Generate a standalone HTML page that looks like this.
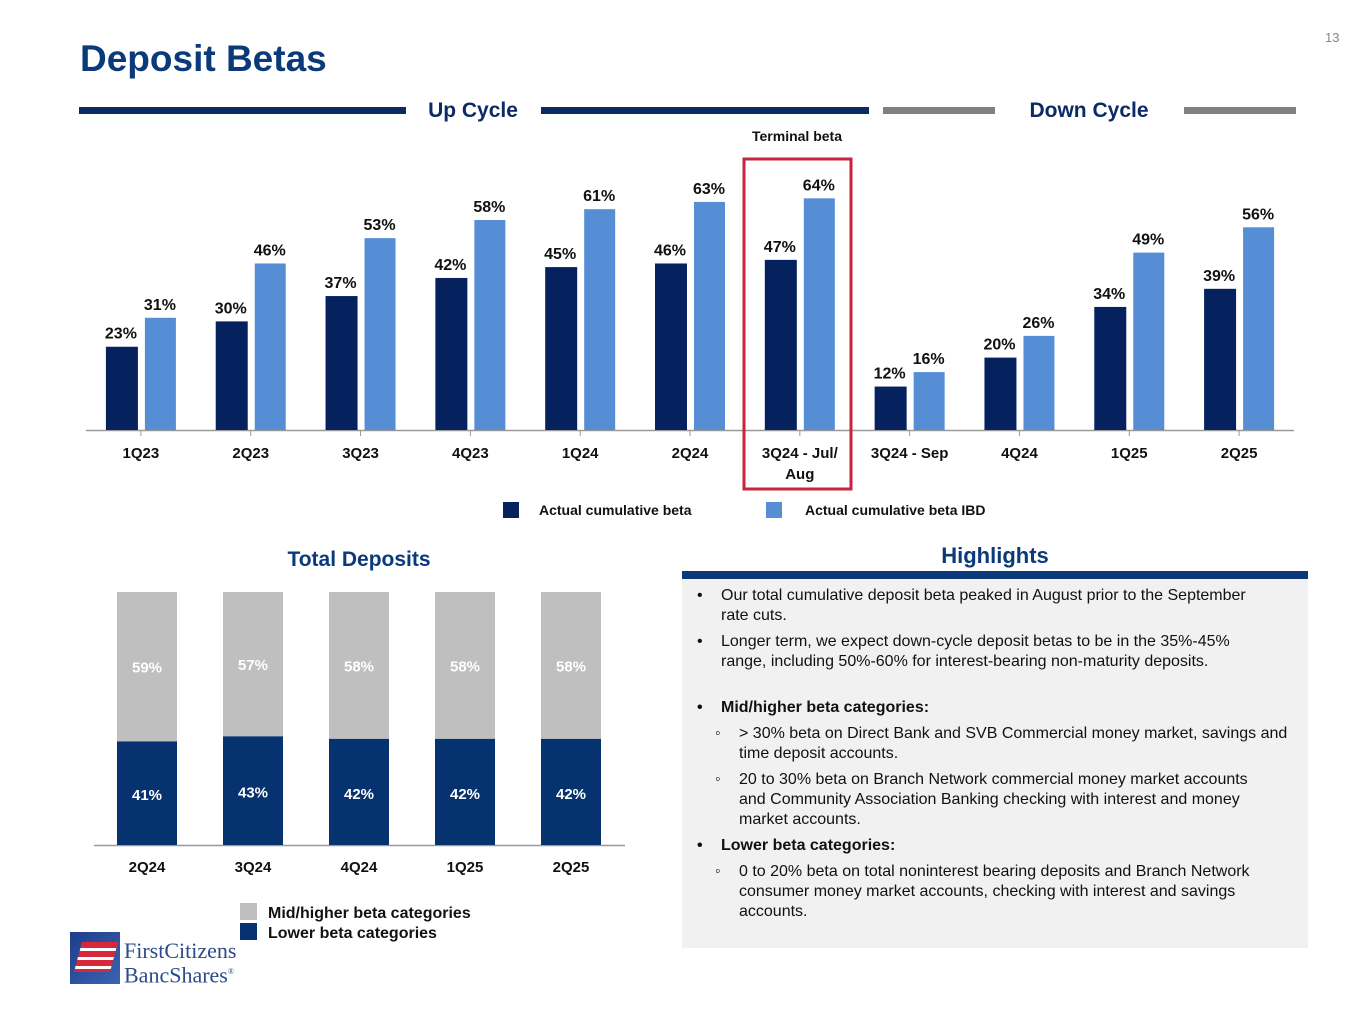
<!DOCTYPE html>
<html><head><meta charset="utf-8"><style>
body{margin:0;width:1365px;height:1024px;background:#fff;font-family:"Liberation Sans",Arial,sans-serif;position:relative;overflow:hidden}
.a{position:absolute}
.hl{font-size:16px;color:#111;line-height:20px}
</style></head><body>
<div class="a" style="left:80px;top:38px;font-size:37px;font-weight:bold;color:#0b3a7a">Deposit Betas</div>
<div class="a" style="left:1325px;top:30px;font-size:13px;color:#888">13</div>

<svg class="a" style="left:0;top:0" width="1365" height="1024">
<g id="topg"></g><g id="botg"></g>
</svg>

<div class="a" style="left:682px;top:543px;width:626px;text-align:center;font-size:22px;font-weight:bold;color:#0b3a7a">Highlights</div>
<div class="a" style="left:682px;top:571px;width:626px;height:377px;background:#f1f1f1;border-top:8px solid #0b3a7a;box-sizing:border-box"></div>
<div class="a hl" style="left:697px;top:586px;width:585px">
<div style="position:relative;padding-left:24px;width:555px"><span style="position:absolute;left:0">•</span>Our total cumulative deposit beta peaked in August prior to the September rate cuts.</div>
<div style="position:relative;padding-left:24px;margin-top:6px;width:555px"><span style="position:absolute;left:0">•</span>Longer term, we expect down-cycle deposit betas to be in the 35%-45% range, including 50%-60% for interest-bearing non-maturity deposits.</div>
<div style="position:relative;padding-left:24px;margin-top:26px;font-weight:bold"><span style="position:absolute;left:0">•</span>Mid/higher beta categories:</div>
<div style="position:relative;padding-left:42px;margin-top:6px;width:555px"><span style="position:absolute;left:18px">◦</span>&gt; 30% beta on Direct Bank and SVB Commercial money market, savings and time deposit accounts.</div>
<div style="position:relative;padding-left:42px;margin-top:6px;width:530px"><span style="position:absolute;left:18px">◦</span>20 to 30% beta on Branch Network commercial money market accounts and Community Association Banking checking with interest and money market accounts.</div>
<div style="position:relative;padding-left:24px;margin-top:6px;font-weight:bold"><span style="position:absolute;left:0">•</span>Lower beta categories:</div>
<div style="position:relative;padding-left:42px;margin-top:6px;width:545px"><span style="position:absolute;left:18px">◦</span>0 to 20% beta on total noninterest bearing deposits and Branch Network consumer money market accounts, checking with interest and savings accounts.</div>
</div>

<div class="a" style="left:70px;top:932px;width:50px;height:52px;background:linear-gradient(135deg,#1d3d8a,#3c64b0)">
<div style="position:absolute;left:8px;top:10px;width:36px;height:30px;background:repeating-linear-gradient(180deg,#d6283a 0 6px,#fff 6px 9px);transform:skewX(-15deg)"></div></div>
<div class="a" style="left:124px;top:940px;font-family:'Liberation Serif',serif;font-size:22px;line-height:21px;color:#2a4a8a">FirstCitizens<br>BancShares<sup style="font-size:8px">®</sup></div>

<script>
const topCats=["1Q23","2Q23","3Q23","4Q23","1Q24","2Q24","3Q24 - Jul/|Aug","3Q24 - Sep","4Q24","1Q25","2Q25"];
const actualBeta=[23,30,37,42,45,46,47,12,20,34,39];
const ibdBeta=[31,46,53,58,61,63,64,16,26,49,56];
const botCats=["2Q24","3Q24","4Q24","1Q25","2Q25"];
const lowerBeta=[41,43,42,42,42];
const higherBeta=[59,57,58,58,58];
const NS="http://www.w3.org/2000/svg";
function mk(p,t,a,txt){const e=document.createElementNS(NS,t);for(const k in a)e.setAttribute(k,a[k]);if(txt!==undefined)e.textContent=txt;p.appendChild(e);return e;}
const tg=document.getElementById('topg'),bg=document.getElementById('botg');
const x0=86,x1=1294,base=430,ppu=3.62,step=(x1-x0)/topCats.length;
const xc=i=>x0+step*(i+0.5), yv=v=>base-v*ppu;
let e;
e=mk(tg,'rect',{x:79,y:107,width:327,height:7,fill:'#0b2a66'});
e=mk(tg,'rect',{x:541,y:107,width:328,height:7,fill:'#0b2a66'});
e=mk(tg,'rect',{x:883,y:107,width:112,height:7,fill:'#808080'});
e=mk(tg,'rect',{x:1184,y:107,width:112,height:7,fill:'#808080'});
e=mk(tg,'text',{x:473,y:117,'text-anchor':'middle','font-size':21,'font-weight':'bold',fill:'#0b2a66'},'Up Cycle');
e=mk(tg,'text',{x:1089,y:117,'text-anchor':'middle','font-size':21,'font-weight':'bold',fill:'#0b2a66'},'Down Cycle');
e=mk(tg,'text',{x:797,y:141,'text-anchor':'middle','font-size':14,'font-weight':'bold',fill:'#111'},'Terminal beta');
e=mk(tg,'line',{x1:x0,y1:base+0.5,x2:x1,y2:base+0.5,stroke:'#999','stroke-width':1.5});
topCats.forEach((c,i)=>{
 const cx=xc(i);
 e=mk(tg,'line',{x1:cx,y1:base,x2:cx,y2:base+6,stroke:'#999'});
 e=mk(tg,'rect',{x:cx-35,y:yv(actualBeta[i]),width:32,height:actualBeta[i]*ppu,fill:'#05215e'});
 e=mk(tg,'rect',{x:cx+4,y:yv(ibdBeta[i]),width:31,height:ibdBeta[i]*ppu,fill:'#558ed5'});
 e=mk(tg,'text',{x:cx-20,y:yv(actualBeta[i])-8,'text-anchor':'middle','font-size':16,'font-weight':'bold',fill:'#111'},actualBeta[i]+'%');
 e=mk(tg,'text',{x:cx+19,y:yv(ibdBeta[i])-8,'text-anchor':'middle','font-size':16,'font-weight':'bold',fill:'#111'},ibdBeta[i]+'%');
 c.split('|').forEach((l,j)=>{e=mk(tg,'text',{x:cx,y:458+j*21,'text-anchor':'middle','font-size':15,'font-weight':'bold',fill:'#111'},l);});
});
e=mk(tg,'rect',{x:744,y:159,width:107,height:330,fill:'none',stroke:'#c8233f','stroke-width':3});
e=mk(tg,'rect',{x:503,y:502,width:16,height:16,fill:'#05215e'});
e=mk(tg,'text',{x:539,y:515,'font-size':14,'font-weight':'bold',fill:'#111'},'Actual cumulative beta');
e=mk(tg,'rect',{x:766,y:502,width:16,height:16,fill:'#558ed5'});
e=mk(tg,'text',{x:805,y:515,'font-size':14,'font-weight':'bold',fill:'#111'},'Actual cumulative beta IBD');
const bx0=94,bstep=106,bbase=845,bppu=2.53;
e=mk(bg,'text',{x:359,y:566,'text-anchor':'middle','font-size':21,'font-weight':'bold',fill:'#0b3a7a'},'Total Deposits');
e=mk(bg,'line',{x1:94,y1:bbase+0.5,x2:625,y2:bbase+0.5,stroke:'#999','stroke-width':1.5});
botCats.forEach((c,i)=>{
 const cx=bx0+bstep*(i+0.5);
 const lh=lowerBeta[i]*bppu,hh=higherBeta[i]*bppu;
 e=mk(bg,'rect',{x:cx-30,y:bbase-lh,width:60,height:lh,fill:'#06326f'});
 e=mk(bg,'rect',{x:cx-30,y:bbase-lh-hh,width:60,height:hh,fill:'#bfbfbf'});
 e=mk(bg,'text',{x:cx,y:bbase-lh/2+7,'text-anchor':'middle','font-size':15,'font-weight':'bold',fill:'#fff'},lowerBeta[i]+'%');
 e=mk(bg,'text',{x:cx,y:bbase-lh-hh/2+6,'text-anchor':'middle','font-size':15,'font-weight':'bold',fill:'#fff'},higherBeta[i]+'%');
 e=mk(bg,'text',{x:cx,y:872,'text-anchor':'middle','font-size':15,'font-weight':'bold',fill:'#111'},c);
});
e=mk(bg,'rect',{x:240,y:903,width:17,height:17,fill:'#bfbfbf'});
e=mk(bg,'text',{x:268,y:918,'font-size':16,'font-weight':'bold',fill:'#111'},'Mid/higher beta categories');
e=mk(bg,'rect',{x:240,y:923,width:17,height:17,fill:'#06326f'});
e=mk(bg,'text',{x:268,y:938,'font-size':16,'font-weight':'bold',fill:'#111'},'Lower beta categories');
</script>
</body></html>
